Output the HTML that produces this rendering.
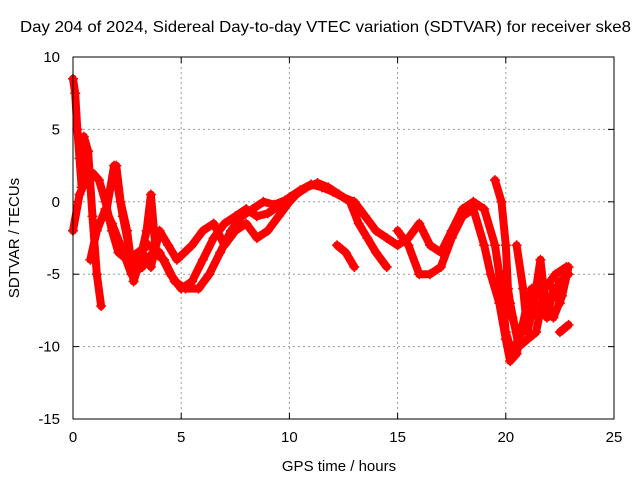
<!DOCTYPE html>
<html><head><meta charset="utf-8"><style>
html,body{margin:0;padding:0;background:#fff}
svg{display:block;font-family:"Liberation Sans",sans-serif}
</style></head><body>
<svg id="chart" width="640" height="480" viewBox="0 0 640 480">
<text x="20" y="32" font-size="16" textLength="611" lengthAdjust="spacingAndGlyphs">Day 204 of 2024, Sidereal Day-to-day VTEC variation (SDTVAR) for receiver ske8</text>
<g id="grid"></g>
<g id="ticks"></g>
<g id="series"></g>
<rect x="73" y="57" width="541" height="362" fill="none" stroke="#000" stroke-width="1"/>
<text x="339" y="471" font-size="15" text-anchor="middle">GPS time / hours</text>
<text transform="translate(19,238) rotate(-90)" font-size="15" text-anchor="middle">SDTVAR / TECUs</text>
</svg>
<script>
const xTicks=[0,5,10,15,20,25];
const yTicks=[10,5,0,-5,-10,-15];
const trackA=[[0,-2],[0.3,0.5],[0.6,1.5],[0.9,2],[1.2,1.5],[1.5,0],[1.8,-2],[2.1,-3.5],[2.5,-4],[3.0,-3.5],[3.5,-3],[4.0,-3.5],[4.5,-5],[5,-6],[5.5,-5.5],[6,-4],[6.5,-2.5],[7,-1.5],[7.5,-1],[8,-0.5],[8.5,-1],[9,-0.8],[9.5,-0.3],[10,0.3],[10.5,0.8],[11,1.2],[11.5,1],[12,0.7],[12.5,0.3],[13,0],[13.5,-1],[14,-2],[14.5,-2.5],[15,-3],[15.5,-2.5],[16,-1.5],[16.5,-3],[17,-3.5],[17.5,-2],[18,-0.5],[18.5,0],[19,-0.5],[19.5,-3],[19.8,-6],[20,-9],[20.3,-10.5],[20.7,-9],[21,-7],[21.5,-8],[22,-7],[22.5,-5.5],[22.9,-5]];
const trackB=[[0.8,-4],[1.1,-2],[1.5,-0.5],[1.8,-1.5],[2.2,-3],[2.7,-5],[3.2,-4.5],[3.7,-3.5],[4.2,-4],[4.7,-5.5],[5.2,-6],[5.8,-6],[6.3,-5],[6.8,-3.5],[7.3,-2],[7.8,-1],[8.3,-0.5],[8.8,0],[9.3,-0.2],[9.8,0.1],[10.3,0.5],[10.8,1],[11.3,1.3],[11.8,1],[12.3,0.5],[12.8,0],[13.2,-1.5],[13.6,-2.5],[14,-3.5],[14.5,-4.5]];
const trackC=[[1.5,-1],[1.9,2.5],[2.3,-1],[2.7,-4],[3.2,-3.5],[3.6,-4.5],[4.0,-2],[4.4,-3],[4.8,-4],[5.5,-3],[6,-2],[6.5,-1.5],[7,-3],[7.5,-2],[8,-1.5],[8.5,-2.5],[9,-2],[9.5,-1],[10,0],[10.5,0.8]];
const trackD=[[15,-2],[15.5,-3],[16,-5],[16.5,-5],[17,-4.5],[17.5,-2.5],[18,-1],[18.5,-0.5],[19,-3],[19.3,-5],[19.7,-7],[20,-9.5],[20.2,-11],[20.5,-10.5],[20.8,-8.5],[21.2,-6],[21.7,-6.5],[22.2,-8],[22.6,-6.5],[22.9,-4.5]];
const trackE=[[12.2,-3],[12.6,-3.5],[13,-4.5]];
const trackF=[[22.5,-9],[22.9,-8.5]];
const trackG=[[19.5,1.5],[19.8,0],[20.0,-3],[20.1,-6],[20.3,-8],[20.5,-9]];
const trackH=[[0,8.5],[0.1,7.5],[0.2,5],[0.3,3],[0.4,1],[0.5,4.5],[0.7,3.5],[0.9,-1],[1.1,-5],[1.3,-7.2]];
const trackI=[[20.5,-3],[20.8,-6],[21,-9],[21.3,-7],[21.6,-4],[21.9,-8],[22.2,-6],[22.5,-7],[22.8,-5]];
const trackJ=[[19.9,-5],[20.2,-7],[20.6,-10],[21,-9.5],[21.4,-9],[21.8,-6],[22.3,-5],[22.8,-4.5]];
const trackK=[[2,2.5],[2.2,0],[2.5,-2],[2.8,-5.5],[3.1,-4],[3.4,-2],[3.6,0.5],[3.8,-3]];
const tracks=[trackA,trackB,trackC,trackD,trackE,trackF,trackG,trackH,trackI,trackJ,trackK];
const X0=73,X1=614,Y0=57,Y1=419;
const xs=h=>X0+(h-0)/25*(X1-X0);
const ys=v=>Y0+(10-v)/25*(Y1-Y0);
const NS='http://www.w3.org/2000/svg';
const grid=document.getElementById('grid'),tk=document.getElementById('ticks'),ser=document.getElementById('series');
function mk(tag,attrs,parent){const e=document.createElementNS(NS,tag);for(const k in attrs)e.setAttribute(k,attrs[k]);parent.appendChild(e);return e;}
xTicks.forEach(t=>{const x=xs(t);
 if(t>0&&t<25){const g=mk('line',{x1:x,x2:x,y1:Y0,y2:Y1,stroke:'#999','stroke-dasharray':'2,3'},grid);
 
 }
 const l=mk('text',{x:x,y:442,'font-size':15,'text-anchor':'middle'},tk);l.textContent=t;
 
 
 mk('line',{x1:x,x2:x,y1:Y1,y2:Y1-6,stroke:'#000'},tk);mk('line',{x1:x,x2:x,y1:Y0,y2:Y0+6,stroke:'#000'},tk);});
yTicks.forEach(t=>{const y=ys(t);
 if(t<10&&t>-15){const g=mk('line',{x1:X0,x2:X1,y1:y,y2:y,stroke:'#999','stroke-dasharray':'2,3'},grid);
 
 }
 const l=mk('text',{x:60,y:y+5,'font-size':15,'text-anchor':'end'},tk);l.textContent=t;
 
 
 mk('line',{x1:X0,x2:X0+6,y1:y,y2:y,stroke:'#000'},tk);mk('line',{x1:X1,x2:X1-6,y1:y,y2:y,stroke:'#000'},tk);});
tracks.forEach(tr=>{
 const p=mk('polyline',{points:tr.map(d=>xs(d[0])+','+ys(d[1])).join(' '),fill:'none',stroke:'#f00','stroke-width':8,'stroke-linejoin':'round','stroke-linecap':'round'},ser);
 
 
 tr.forEach(d=>{const x=xs(d[0]),y=ys(d[1]);
  const m=mk('path',{d:`M${x-5},${y}H${x+5}M${x},${y-5}V${y+5}`,stroke:'#f00','stroke-width':1.5},ser);
  
  });
});
</script>
</body></html>
